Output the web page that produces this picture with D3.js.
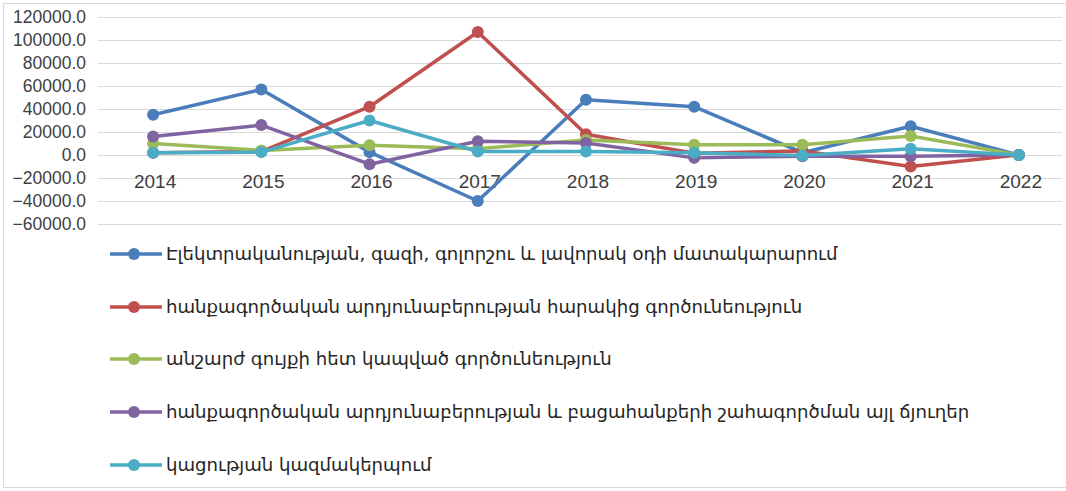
<!DOCTYPE html>
<html><head><meta charset="utf-8">
<script src="https://cdn.jsdelivr.net/npm/d3@7/dist/d3.min.js"></script>
<style>body{margin:0;background:#fff;}svg{display:block;}</style>
</head><body>
<svg id="c" width="1066" height="491"></svg>
<script>
const years = ["2014","2015","2016","2017","2018","2019","2020","2021","2022"];
const yTicks = [120000,100000,80000,60000,40000,20000,0,-20000,-40000,-60000];
const seriesNames = [
  "Էլեկտրականության, գազի, գոլորշու և լավորակ օդի մատակարարում",
  "հանքագործական արդյունաբերության հարակից գործունեություն",
  "անշարժ գույքի հետ կապված գործունեություն",
  "հանքագործական արդյունաբերության և բացահանքերի շահագործման այլ ճյուղեր",
  "կացության կազմակերպում"
];
const seriesColors = ["#4a7ebb","#c0504d","#9bbb59","#8064a2","#4bacc6"];
const electricity = [35000,57000,2500,-40000,48000,42000,2000,25000,0];
const miningSupport = [2000,3000,42000,107000,18000,1500,3500,-10000,0];
const realEstate = [10000,4000,8500,5500,13000,9000,9000,16500,0];
const miningOther = [16000,26000,-8000,12000,10500,-2500,-1000,-1000,0];
const accommodation = [2000,2500,30000,3000,3000,2000,-500,5500,0];
const seriesValues = [electricity, miningSupport, realEstate, miningOther, accommodation];

const svg = d3.select("#c");
// frame
svg.append("rect").attr("x",3.5).attr("y",3.5).attr("width",1070).attr("height",484)
  .attr("fill","none").attr("stroke","#d9d9d9");

const x = d3.scalePoint().domain(years).range([99,1073]).padding(0.5);
const y = d3.scaleLinear().domain([-60000,120000]).range([224,17]);

// grid
svg.append("g").selectAll("line").data(yTicks).join("line")
  .attr("x1",98).attr("x2",1062)
  .attr("y1",d=>Math.round(y(d))+0.5).attr("y2",d=>Math.round(y(d))+0.5)
  .attr("stroke","#d9d9d9").attr("stroke-width",1);

// y labels
svg.append("g").selectAll("text").data(yTicks).join("text")
  .attr("x",86).attr("y",d=>y(d)).attr("dy","0.35em")
  .attr("text-anchor","end")
  .attr("font-family","Liberation Sans, Arial, sans-serif").attr("font-size",17.5)
  .attr("fill","#404040")
  .text(d=>d3.format(".1f")(d));

// x labels
svg.append("g").selectAll("text").data(years).join("text")
  .attr("x",d=>x(d)+2).attr("y",y(0)+26)
  .attr("dy","0.35em")
  .attr("text-anchor","middle")
  .attr("font-family","Liberation Sans, Arial, sans-serif").attr("font-size",19)
  .attr("fill","#404040")
  .text(d=>d);

const line = d3.line().x((d,i)=>x(years[i])).y(d=>y(d));
seriesValues.forEach((vals,k)=>{
  const g = svg.append("g");
  g.append("path").datum(vals).attr("d",line)
    .attr("fill","none").attr("stroke",seriesColors[k]).attr("stroke-width",3.5)
    .attr("stroke-linejoin","round");
  g.selectAll("circle").data(vals).join("circle")
    .attr("cx",(d,i)=>x(years[i])).attr("cy",d=>y(d)).attr("r",6)
    .attr("fill",seriesColors[k]);
});

// legend
const legY = [254,307,359,412,465];
seriesNames.forEach((name,k)=>{
  const g = svg.append("g").attr("transform",`translate(0,${legY[k]})`);
  g.append("line").attr("x1",110).attr("x2",162).attr("y1",0).attr("y2",0)
    .attr("stroke",seriesColors[k]).attr("stroke-width",3.5);
  g.append("circle").attr("cx",134).attr("cy",0).attr("r",6).attr("fill",seriesColors[k]);
  g.append("text").attr("x",166).attr("y",0).attr("dy","0.35em")
    .attr("font-family","DejaVu Sans, sans-serif").attr("font-size",18.1)
    .attr("fill","#262626").text(name);
});
</script>
</body></html>
